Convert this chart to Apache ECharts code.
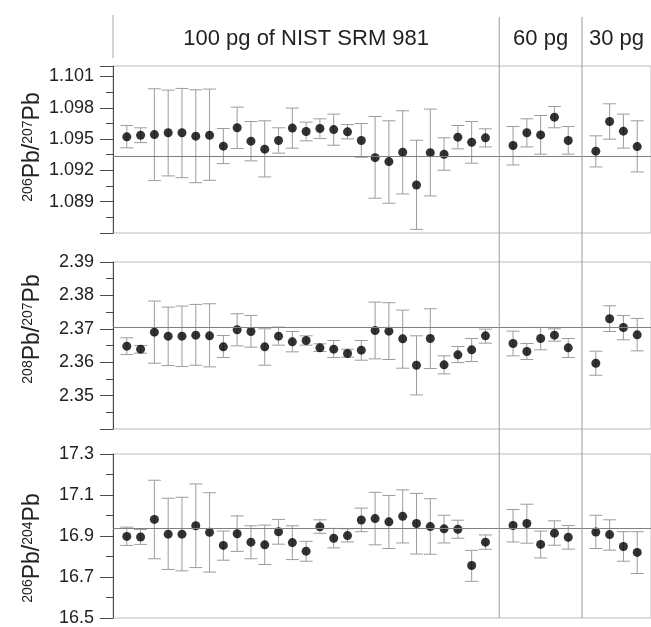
<!DOCTYPE html>
<html><head><meta charset="utf-8">
<script src="https://cdn.jsdelivr.net/npm/echarts@6/dist/echarts.min.js"></script>
<style>html,body{margin:0;padding:0;background:#fff}#c{width:651px;height:627px}</style>
</head><body><div id="c"></div><script>
// ---- data ----
const groupLabels = ['100 pg of NIST SRM 981', '60 pg', '30 pg'];
const groupSizes = [27, 5, 4];
const refValues = [1.09333, 2.3704, 16.937];

// 206Pb/207Pb
const r67Mean = [1.09521,1.09537,1.09543,1.0956,1.0956,1.09528,1.09537,1.09432,1.09608,1.0948,1.09403,1.09486,1.09605,1.09572,1.09601,1.09591,1.09569,1.09486,1.09322,1.09284,1.09374,1.0906,1.0937,1.09355,1.09518,1.0947,1.09512,
  1.09438,1.0956,1.0954,1.0971,1.09486,
  1.09384,1.09668,1.09576,1.09428];
const r67High = [1.0963,1.09608,1.09982,1.09969,1.09985,1.09972,1.09979,1.09601,1.09806,1.09668,1.09675,1.09608,1.09797,1.09662,1.09694,1.09739,1.09639,1.09649,1.09716,1.09675,1.09771,1.09489,1.09787,1.09512,1.0963,1.09668,1.09598,
  1.0962,1.09694,1.09726,1.09812,1.0962,
  1.09531,1.09838,1.09739,1.09675];
const r67Low = [1.09416,1.09466,1.09102,1.09147,1.0913,1.09082,1.09105,1.09265,1.09409,1.09291,1.09137,1.09365,1.09413,1.09483,1.09505,1.09441,1.09502,1.09326,1.08933,1.08885,1.08974,1.08635,1.08955,1.09201,1.09406,1.09269,1.09425,
  1.09252,1.09425,1.09355,1.09608,1.09355,
  1.09233,1.09499,1.09413,1.09185];

// 208Pb/207Pb
const r87Mean = [2.3648,2.3639,2.369,2.3678,2.3678,2.3681,2.3679,2.3646,2.3697,2.3692,2.3646,2.3678,2.3661,2.3665,2.3643,2.3639,2.3626,2.3636,2.3695,2.3693,2.367,2.3591,2.3671,2.3592,2.3622,2.3637,2.3679,
  2.3656,2.3632,2.3671,2.3681,2.3643,
  2.3597,2.373,2.3704,2.3682];
const r87High = [2.3673,2.365,2.3783,2.3765,2.3768,2.3773,2.3775,2.368,2.3745,2.374,2.37,2.3705,2.3692,2.3679,2.3655,2.3665,2.3639,2.3665,2.378,2.3778,2.3756,2.3679,2.376,2.3619,2.3647,2.3671,2.3699,
  2.3693,2.3656,2.3704,2.37,2.3671,
  2.3633,2.3769,2.374,2.3731];
const r87Low = [2.3623,2.3627,2.3597,2.359,2.3587,2.3591,2.3586,2.3614,2.3649,2.3645,2.3591,2.3651,2.3631,2.3651,2.3632,2.3614,2.3615,2.3606,2.361,2.3608,2.3582,2.3502,2.3581,2.3565,2.3599,2.3602,2.3657,
  2.3619,2.3608,2.3637,2.3663,2.3614,
  2.3561,2.3692,2.3667,2.3634];

// 206Pb/204Pb
const r64Mean = [16.898,16.895,16.981,16.909,16.909,16.95,16.918,16.854,16.911,16.87,16.857,16.921,16.868,16.826,16.945,16.889,16.902,16.978,16.985,16.969,16.996,16.961,16.946,16.935,16.933,16.756,16.87,
  16.951,16.961,16.859,16.914,16.894,
  16.919,16.907,16.849,16.82];
const r64High = [16.943,16.932,17.172,17.084,17.089,17.154,17.111,16.924,16.998,16.95,16.953,16.981,16.95,16.874,16.979,16.937,16.935,17.036,17.113,17.098,17.125,17.108,17.082,17.001,16.977,16.83,16.905,
  17.029,17.055,16.924,16.974,16.951,
  17.001,16.979,16.921,16.921];
const r64Low = [16.854,16.859,16.789,16.737,16.73,16.746,16.724,16.782,16.825,16.789,16.761,16.86,16.785,16.777,16.913,16.842,16.871,16.921,16.857,16.839,16.866,16.812,16.811,16.866,16.889,16.679,16.835,
  16.871,16.865,16.793,16.855,16.836,
  16.839,16.831,16.777,16.717];

// axis settings
const yMin = [1.086, 2.34, 16.5];
const yMax = [1.102, 2.39, 17.3];
const yStep = [0.003, 0.01, 0.2];
const yDigits = [3, 2, 1];
const yHiddenLabels = [[1.086], [2.34], []];
const panelNames = [
  '{s|206}{n|Pb/}{s|207}{n|Pb}',
  '{s|208}{n|Pb/}{s|207}{n|Pb}',
  '{s|206}{n|Pb/}{s|204}{n|Pb}'
];

// ---- layout ----
const FONT = 'Liberation Sans, Arial, sans-serif';
const gridTops = [66, 262, 454];
const gridH = 167;
const xs = [], seps = [];
let p = 1;
groupSizes.forEach((n) => { for (let i = 0; i < n; i++) xs.push(p++); seps.push(p); p++; });
const xMax = seps[seps.length - 1];

const panels = [
  [r67Mean, r67Low, r67High],
  [r87Mean, r87Low, r87High],
  [r64Mean, r64Low, r64High]
];

function renderErr(params, api) {
  const x = api.value(0), lo = api.value(1), hi = api.value(2);
  const a = api.coord([x, hi]), b = api.coord([x, lo]);
  const w = api.size([1, 0])[0] * 0.47;
  const st = { stroke: '#9c9c9c', lineWidth: 1, fill: null };
  return { type: 'group', children: [
    { type: 'line', shape: { x1: a[0], y1: a[1], x2: b[0], y2: b[1] }, style: st },
    { type: 'line', shape: { x1: a[0] - w, y1: a[1], x2: a[0] + w, y2: a[1] }, style: st },
    { type: 'line', shape: { x1: b[0] - w, y1: b[1], x2: b[0] + w, y2: b[1] }, style: st }
  ]};
}

const grid = [], xAxis = [], yAxis = [], series = [];
panels.forEach((pd, k) => {
  grid.push({ left: 113, width: 540, top: gridTops[k], height: gridH, show: true, borderColor: '#bdbdbd', borderWidth: 1 });
  xAxis.push({ gridIndex: k, type: 'value', min: 0, max: xMax, show: false });
  yAxis.push({
    gridIndex: k, type: 'value', min: yMin[k], max: yMax[k], interval: yStep[k],
    axisLine: { show: true, lineStyle: { color: '#4a4a4a', width: 1 } },
    axisTick: { show: true, length: 13, lineStyle: { color: '#4a4a4a' } },
    minorTick: { show: true, splitNumber: 2, length: 7, lineStyle: { color: '#4a4a4a' } },
    splitLine: { show: false }, minorSplitLine: { show: false },
    axisLabel: {
      fontSize: 18, color: '#222', margin: 19, fontFamily: FONT,
      formatter: (v) => yHiddenLabels[k].some(h => Math.abs(h - v) < 1e-9) ? '' : v.toFixed(yDigits[k])
    }
  });
  const errData = xs.map((x, i) => [x, pd[1][i], pd[2][i]]);
  const ptData = xs.map((x, i) => [x, pd[0][i]]);
  series.push({
    type: 'custom', xAxisIndex: k, yAxisIndex: k, renderItem: renderErr, data: errData, z: 2, silent: true
  });
  series.push({
    type: 'scatter', xAxisIndex: k, yAxisIndex: k, data: ptData, symbolSize: 9,
    itemStyle: { color: '#000' }, z: 3, silent: true,
    markLine: {
      symbol: 'none', silent: true, label: { show: false }, animation: false, precision: 6,
      lineStyle: { color: '#808080', width: 1, type: 'solid' },
      data: [{ yAxis: refValues[k] }]
    }
  });
});

const chart = echarts.init(document.getElementById('c'), null, { renderer: 'canvas' });
chart.setOption({ animation: false, backgroundColor: '#fff', grid, xAxis, yAxis, series });

// decorations derived from the axes
const px = (v) => chart.convertToPixel({ xAxisIndex: 0 }, v);
const bottomY = chart.convertToPixel({ yAxisIndex: 2 }, yMin[2]);
const graphic = [];
graphic.push({ type: 'line', shape: { x1: px(0), y1: 15, x2: px(0), y2: 58 }, style: { stroke: '#a8a8a8', lineWidth: 1 } });
seps.slice(0, -1).forEach((s) => {
  graphic.push({ type: 'line', z: 10, shape: { x1: px(s), y1: 17, x2: px(s), y2: bottomY }, style: { stroke: '#9a9a9a', lineWidth: 1 } });
});
let prev = 0;
seps.forEach((s, g) => {
  graphic.push({ type: 'text', x: px((prev + s) / 2), y: 39,
    style: { text: groupLabels[g], fontSize: 22, fontFamily: FONT, fill: '#222', align: 'center', verticalAlign: 'middle' } });
  prev = s;
});
const nameY = [147, 329, 548];
panelNames.forEach((t, k) => {
  graphic.push({ type: 'text', x: 33, y: nameY[k], rotation: Math.PI / 2,
    style: { text: t, fill: '#222', fontFamily: FONT, align: 'center', verticalAlign: 'middle',
      rich: { n: { fontSize: 23, fontFamily: FONT, fill: '#222', verticalAlign: 'bottom', lineHeight: 23 },
              s: { fontSize: 14, fontFamily: FONT, fill: '#222', verticalAlign: 'top', lineHeight: 14 } } } });
});
chart.setOption({ graphic });
</script></body></html>
